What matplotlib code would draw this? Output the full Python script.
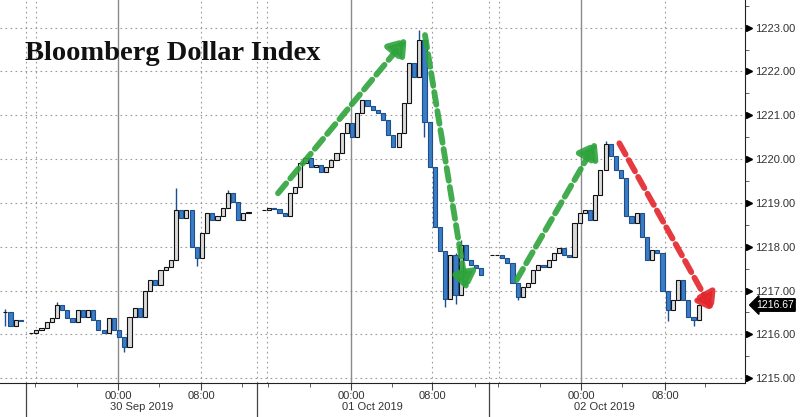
import numpy as np
import matplotlib
matplotlib.use("Agg")
import matplotlib.pyplot as plt

# --- data (half-hour closes per trading session, x = session hours) ---
session_start = [-2.0, 0.5, 23.0, 45.0]
bar_step = 0.5

sess0_close = [1216.52, 1216.18, 1216.33, 1216.30]

sess1_close = [1216.03, 1216.10, 1216.14, 1216.29, 1216.37, 1216.67, 1216.55, 1216.37,
               1216.29, 1216.55, 1216.40, 1216.55, 1216.33, 1216.10, 1216.03, 1216.37,
               1216.10, 1215.95, 1215.72, 1216.40, 1216.60, 1216.40, 1217.00, 1217.24,
               1217.12, 1217.47, 1217.54, 1217.70, 1218.84, 1218.65, 1218.84, 1218.00,
               1217.74, 1218.31, 1218.77, 1218.60, 1218.69, 1218.88, 1219.22, 1219.03,
               1218.60, 1218.77, 1218.80]

sess2_close = [1218.83, 1218.88, 1218.85, 1218.77, 1218.70, 1219.22, 1219.37, 1219.91,
               1220.03, 1219.83, 1219.87, 1219.71, 1219.83, 1219.98, 1220.13, 1220.60,
               1220.82, 1220.51, 1221.05, 1221.35, 1221.20, 1221.12, 1221.05, 1220.89,
               1220.55, 1220.28, 1220.60, 1221.28, 1222.19, 1221.88, 1222.72, 1220.85,
               1219.83, 1218.46, 1217.90, 1216.80, 1217.80, 1216.90, 1218.05, 1217.70,
               1217.58, 1217.51, 1217.35]

sess3_close = [1217.81, 1217.81, 1217.74, 1217.62, 1217.17, 1216.85, 1217.09, 1217.17,
               1217.47, 1217.58, 1217.54, 1217.70, 1217.85, 1217.97, 1217.81, 1217.77,
               1218.54, 1218.77, 1218.84, 1218.60, 1219.18, 1219.75, 1220.35, 1220.06,
               1219.75, 1219.57, 1218.69, 1218.54, 1218.77, 1218.23, 1217.70, 1217.92,
               1217.85, 1217.00, 1216.55, 1216.78, 1217.24, 1216.78, 1216.40, 1216.33,
               1216.67]

sessions = [sess0_close, sess1_close, sess2_close, sess3_close]

# visible spikes (wicks)
wick_x = [-2.0, 3.0, 9.5, 14.5, 16.5, 19.5, 38.0, 38.5, 40.5, 41.5, 42.0, 47.5, 56.0, 62.0, 64.5]
wick_lo = [1216.20, 1216.37, 1215.60, 1217.70, 1217.55, 1218.90, 1221.90, 1220.50,
           1216.63, 1216.70, 1217.00, 1216.78, 1219.75, 1216.30, 1216.20]
wick_hi = [1216.58, 1216.74, 1215.95, 1219.34, 1218.00, 1219.30, 1222.95, 1221.85,
           1217.90, 1217.85, 1218.15, 1217.17, 1220.42, 1217.00, 1216.40]

# axis ticks
session_sep = [0.0, 22.32, 44.73]
session_len = 22.35
midnight_pos = [8.89, 31.40, 53.62]
eight_pos = [16.91, 39.23, 61.74]
day_labels = ["30 Sep 2019", "01 Oct 2019", "02 Oct 2019"]
y_ticks = [1215, 1216, 1217, 1218, 1219, 1220, 1221, 1222, 1223]

# trend arrows: (x0, y0, x1, y1, colour)
arrows = [
    (24.35, 1219.22, 36.78, 1222.76, "#2ea33c"),
    (38.55, 1222.83, 42.58, 1217.00, "#2ea33c"),
    (47.40, 1217.24, 55.14, 1220.40, "#2ea33c"),
    (57.33, 1220.36, 66.41, 1216.52, "#e3262b"),
]

UP_FACE, UP_EDGE = "#d9d9d9", "#111111"
DN_FACE, DN_EDGE = "#3b7cc4", "#1d4f8f"
SANS = ["Liberation Sans", "DejaVu Sans"]


def draw_candles(ax):
    """open = previous close within the session"""
    ax.vlines(wick_x, wick_lo, wick_hi, color=DN_EDGE, lw=1.0, zorder=2)
    for start, closes in zip(session_start, sessions):
        closes = np.array(closes)
        x = start + bar_step * np.arange(len(closes))
        opens = np.concatenate([[closes[0]], closes[:-1]])
        up = closes >= opens
        h = closes - opens
        ax.bar(x[up], h[up], bottom=opens[up], width=0.4,
               color=UP_FACE, edgecolor=UP_EDGE, linewidth=0.8, zorder=3)
        ax.bar(x[~up], h[~up], bottom=opens[~up], width=0.4,
               color=DN_FACE, edgecolor=DN_EDGE, linewidth=0.8, zorder=3)


def main():
    fig = plt.figure(figsize=(8, 4.17), dpi=100)
    ax = fig.add_axes([0, 34 / 417, 745 / 800, 383 / 417])

    draw_candles(ax)

    ax.set_xlim(-2.51, 69.47)
    ax.set_ylim(1214.89, 1223.63)

    # grid
    for y in y_ticks:
        ax.axhline(y, color="#9a9a9a", lw=0.8, ls=(0, (1.5, 3)), zorder=1)
    for s in session_sep:
        ax.axvline(s, color="#9a9a9a", lw=0.8, ls=(0, (1.5, 3)), zorder=1)
        ax.axvline(s + 0.97, color="#9a9a9a", lw=0.8, ls=(0, (1.5, 3)), zorder=1)
        ax.plot([s, s], [0, -0.085], transform=ax.get_xaxis_transform(),
                color="#444444", lw=0.9, clip_on=False)
    for x in eight_pos:
        ax.axvline(x, color="#9a9a9a", lw=0.8, ls=(0, (1.5, 3)), zorder=1)
    for x in midnight_pos:
        ax.axvline(x, color="#8a8a8a", lw=1.0, zorder=1)

    # x axis
    ax.set_xticks(sorted(midnight_pos + eight_pos))
    ax.set_xticklabels(["00:00", "08:00"] * 3)
    minor = []
    for m in midnight_pos:
        minor += [m - 8, m - 4, m + 4, m + 12]
    ax.set_xticks(minor, minor=True)
    ax.tick_params(axis="x", which="major", length=5, color="#444444", pad=1,
                   labelsize=8, labelcolor="#333333")
    ax.tick_params(axis="x", which="minor", length=3, color="#444444")
    for s, lab in zip(session_sep, day_labels):
        ax.text(s + session_len / 2, -0.063, lab, transform=ax.get_xaxis_transform(),
                ha="center", va="center", fontsize=8, color="#333333", family=SANS)

    # y axis on the right
    ax.yaxis.tick_right()
    ax.set_yticks(y_ticks)
    ax.set_yticklabels([f"{v:.2f}" for v in y_ticks])
    ax.set_yticks([v + 0.5 for v in y_ticks[:-1]] + [1223.5], minor=True)
    ax.tick_params(axis="y", which="major", length=0, pad=7, labelsize=8,
                   labelcolor="#333333")
    ax.tick_params(axis="y", which="minor", length=3, color="#444444")
    ax.plot([1.006] * len(y_ticks), y_ticks, ">", color="black", markersize=4,
            transform=ax.get_yaxis_transform(), clip_on=False)
    for t in ax.get_yticklabels() + ax.get_xticklabels():
        t.set_fontfamily(SANS)

    for side in ["left", "top"]:
        ax.spines[side].set_visible(False)
    ax.spines["right"].set_color("#222222")
    ax.spines["bottom"].set_color("#222222")

    # last price tag
    last = sess3_close[-1]
    ax.text(1.015, last, f"{last:.2f}", transform=ax.get_yaxis_transform(),
            ha="left", va="center", fontsize=7.5, color="white",
            family=SANS, clip_on=False,
            bbox=dict(boxstyle="larrow,pad=0.12", fc="black", ec="black"))

    # trend arrows
    for x0, y0, x1, y1, c in arrows:
        ax.annotate("", xy=(x1, y1), xytext=(x0, y0),
                    arrowprops=dict(arrowstyle="-|>,head_length=1.0,head_width=0.7",
                                    color=c, lw=4.2, ls=(0, (2.2, 1.1)),
                                    shrinkA=0, shrinkB=0, alpha=0.9),
                    zorder=5)

    fig.text(25 / 800, 1 - 60 / 417, "Bloomberg Dollar Index",
             fontsize=20.5, fontweight="bold", family="Liberation Serif",
             color="#111111", va="baseline")

    fig.savefig("out.png", dpi=100)


if __name__ == "__main__":
    main()
